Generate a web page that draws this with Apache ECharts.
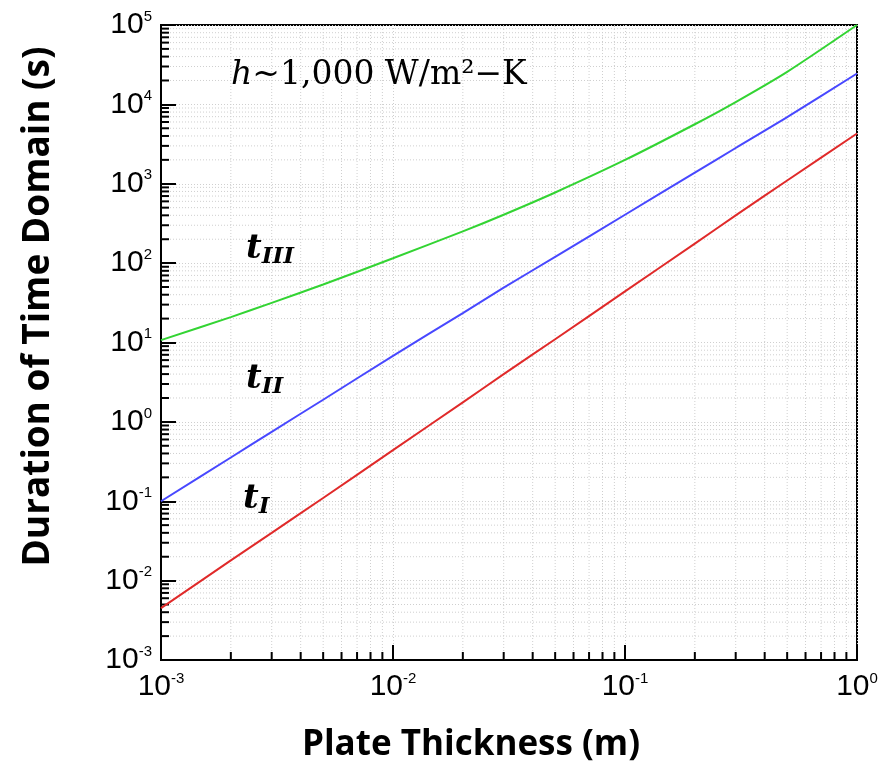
<!DOCTYPE html>
<html>
<head>
<meta charset="utf-8">
<script src="https://cdn.jsdelivr.net/npm/echarts@6/dist/echarts.min.js"></script>
<style>
html, body { margin: 0; padding: 0; background: #fff; }
#main { width: 892px; height: 773px; }
</style>
</head>
<body>
<div id="main"></div>
<script>
// plate thickness (m)
var thickness = [0.001, 0.002, 0.003, 0.005, 0.01, 0.02, 0.03, 0.05, 0.1, 0.2, 0.3, 0.5, 1];
// duration of each time domain (s)
var tI   = [0.0045, 0.018, 0.04, 0.11, 0.44, 1.76, 4.0, 11, 44, 176, 400, 1100, 4300];
var tII  = [0.1, 0.356, 0.75, 1.9, 6.8, 23.4, 49, 120, 407, 1380, 2820, 6900, 24500];
var tIII = [10.7, 20.9, 31.6, 53.7, 115, 251, 407, 776, 1995, 5620, 10700, 25700, 100000];

var xDecades = [0.001, 0.01, 0.1];
var yDecades = [0.001, 0.01, 0.1, 1, 10, 100, 1000, 10000];
var xMin = 0.001, xMax = 1, yMin = 0.001, yMax = 100000;

function minors(decades) {
    var res = [];
    for (var i = 0; i < decades.length; i++) {
        for (var k = 2; k <= 9; k++) res.push(+(decades[i] * k).toPrecision(3));
    }
    return res;
}
var xMinor = minors(xDecades).map(function (v) { return [v, yMin]; });
var yMinor = minors(yDecades).map(function (v) { return [xMin, v]; });

var gridColor = '#cfcfcf';

function zip(xs, ys) {
    return xs.map(function (x, i) { return [x, ys[i]]; });
}

function xMinorItem(params, api) {
    var b = api.coord([api.value(0), yMin]);
    var t = api.coord([api.value(0), yMax]);
    return {
        type: 'group',
        children: [
            { type: 'line', shape: { x1: b[0], y1: b[1], x2: t[0], y2: t[1] },
              style: { stroke: gridColor, lineWidth: 1, lineDash: [1, 2] } },
            { type: 'line', shape: { x1: b[0], y1: b[1], x2: b[0], y2: b[1] - 8 },
              style: { stroke: '#000', lineWidth: 2 } }
        ]
    };
}

function yMinorItem(params, api) {
    var l = api.coord([xMin, api.value(1)]);
    var r = api.coord([xMax, api.value(1)]);
    return {
        type: 'group',
        children: [
            { type: 'line', shape: { x1: l[0], y1: l[1], x2: r[0], y2: r[1] },
              style: { stroke: gridColor, lineWidth: 1, lineDash: [1, 2] } },
            { type: 'line', shape: { x1: l[0], y1: l[1], x2: l[0] + 8, y2: l[1] },
              style: { stroke: '#000', lineWidth: 2 } }
        ]
    };
}

var powLabel = {
    color: '#000',
    formatter: function (v) {
        var e = Math.round(Math.log10(v));
        return '{b|10}{s|' + e + '}';
    },
    rich: {
        b: { fontFamily: 'Liberation Sans', fontSize: 30, color: '#000', lineHeight: 32 },
        s: { fontFamily: 'Liberation Sans', fontSize: 15, color: '#000', verticalAlign: 'top', lineHeight: 32 }
    }
};

function tLabel(sub) {
    return {
        text: '{t|t}{s|' + sub + '}',
        rich: {
            t: { fontFamily: 'DejaVu Serif', fontStyle: 'italic', fontWeight: 'bold', fontSize: 34, fill: '#000', lineHeight: 40 },
            s: { fontFamily: 'DejaVu Serif', fontStyle: 'italic', fontWeight: 'bold', fontSize: 23, fill: '#000', verticalAlign: 'bottom', lineHeight: 40 }
        }
    };
}

var myChart = echarts.init(document.getElementById('main'));

var option = {
    animation: false,
    grid: {
        left: 161, right: 35, top: 25, bottom: 113,
        show: true, borderColor: '#000', borderWidth: 2
    },
    xAxis: {
        type: 'log', logBase: 10, min: xMin, max: xMax, interval: 1,
        name: 'Plate Thickness (m)',
        nameLocation: 'middle', nameGap: 68,
        nameTextStyle: { fontFamily: 'Open Sans', fontWeight: 'bold', fontSize: 35, color: '#000', padding: [0, 76, 0, 0] },
        axisLine: { lineStyle: { color: '#000', width: 2 } },
        axisTick: { inside: true, length: 15, lineStyle: { color: '#000', width: 2 } },
        axisLabel: Object.assign({ margin: 11 }, powLabel),
        splitLine: { show: true, lineStyle: { color: gridColor, width: 1, type: [1, 2] } }
    },
    yAxis: {
        type: 'log', logBase: 10, min: yMin, max: yMax, interval: 1,
        name: 'Duration of Time Domain (s)',
        nameLocation: 'middle', nameGap: 104, nameRotate: 90,
        nameTextStyle: { fontFamily: 'Open Sans', fontWeight: 'bold', fontSize: 37, color: '#000', padding: [0, 0, 0, 72] },
        axisLine: { lineStyle: { color: '#000', width: 2 } },
        axisTick: { inside: true, length: 15, lineStyle: { color: '#000', width: 2 } },
        axisLabel: Object.assign({ margin: 9 }, powLabel),
        splitLine: { show: true, lineStyle: { color: gridColor, width: 1, type: [1, 2] } }
    },
    graphic: [
        {
            type: 'text', left: 231, top: 59, z: 10,
            style: {
                text: '{i|h}{n|~1,000 W/m²−K}',
                rich: {
                    i: { fontFamily: 'DejaVu Serif', fontStyle: 'italic', fontSize: 33, fill: '#000' },
                    n: { fontFamily: 'DejaVu Serif', fontSize: 33, fill: '#000' }
                }
            }
        },
        { type: 'text', left: 246, top: 232, z: 10, style: tLabel('III') },
        { type: 'text', left: 246, top: 362, z: 10, style: tLabel('II') },
        { type: 'text', left: 243, top: 482, z: 10, style: tLabel('I') }
    ],
    series: [
        { type: 'custom', data: xMinor, renderItem: xMinorItem, silent: true, z: 1 },
        { type: 'custom', data: yMinor, renderItem: yMinorItem, silent: true, z: 1 },
        { name: 'tIII', type: 'line', data: zip(thickness, tIII), smooth: 0.25, showSymbol: false,
          lineStyle: { color: '#33d433', width: 2 }, z: 3 },
        { name: 'tII', type: 'line', data: zip(thickness, tII), smooth: 0.25, showSymbol: false,
          lineStyle: { color: '#4848ff', width: 2 }, z: 3 },
        { name: 'tI', type: 'line', data: zip(thickness, tI), smooth: 0.25, showSymbol: false,
          lineStyle: { color: '#e02a2a', width: 2 }, z: 3 }
    ]
};

myChart.setOption(option);
</script>
</body>
</html>
